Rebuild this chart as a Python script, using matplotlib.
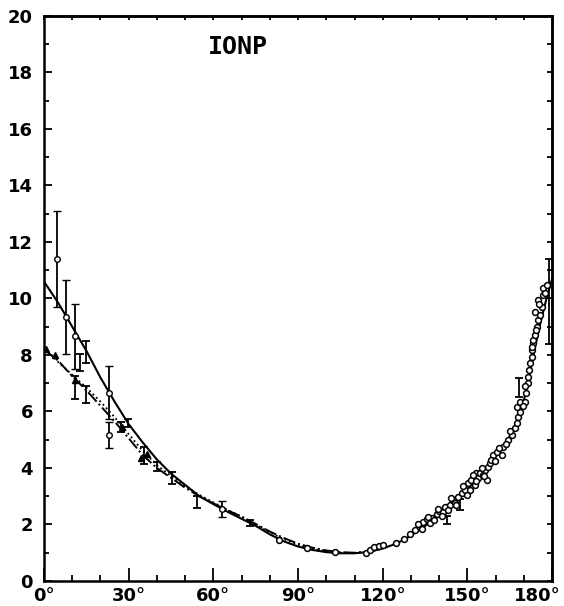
import matplotlib
matplotlib.use("Agg")
import matplotlib.pyplot as plt
import matplotlib.transforms as mtransforms
import numpy as np

plt.rcParams["font.family"] = ["DejaVu Sans"]

# fitted curves (angle in degrees, value)
fit_angle = [0, 5, 10, 15, 20, 25, 30, 35, 40, 45, 50, 55, 60, 65, 70, 75, 80, 85, 90,
             95, 100, 105, 110, 115, 120, 125, 130, 135, 140, 145, 150, 155, 160, 163,
             166, 168, 170, 172, 174, 176, 178, 180]
fit_solid = [10.6, 9.85, 9.0, 8.15, 7.2, 6.35, 5.55, 4.9, 4.3, 3.8, 3.4, 3.0, 2.72, 2.45,
             2.2, 1.95, 1.65, 1.4, 1.22, 1.1, 1.02, 0.98, 0.98, 1.03, 1.15, 1.33, 1.6,
             1.95, 2.35, 2.78, 3.25, 3.78, 4.4, 4.8, 5.3, 5.8, 6.4, 7.3, 8.3, 9.2, 10.0,
             10.7]

alt_angle = [0, 5, 10, 15, 20, 25, 30, 35, 40, 45, 50, 55, 60, 65, 70, 75, 80, 85, 90,
             95, 100, 105, 110, 115, 120]
fit_dashdot = [8.2, 7.8, 7.25, 6.75, 6.2, 5.65, 5.05, 4.45, 4.0, 3.65, 3.3, 3.0, 2.75,
               2.5, 2.28, 2.02, 1.75, 1.52, 1.32, 1.18, 1.08, 1.02, 1.0, 1.04, 1.15]
fit_dotted = [8.25, 7.75, 7.3, 6.85, 6.35, 5.8, 5.2, 4.6, 4.1, 3.72, 3.36, 3.05, 2.78,
              2.52, 2.27, 2.0, 1.72, 1.48, 1.28, 1.14, 1.05, 1.0, 0.99, 1.03, 1.15]

# measured points with error bars, open circle
eb_circ_x = [4.7, 7.8, 11.0, 23.1, 23.1, 63.1]
eb_circ_y = [11.4, 9.35, 8.67, 6.67, 5.17, 2.55]
eb_circ_e = [1.7, 1.3, 1.15, 0.95, 0.45, 0.27]

# measured points with error bars only
eb_x = [12.8, 14.8, 11.0, 14.8, 27.2, 29.9, 35.3, 40.0, 45.3, 54.3, 73.1,
        142.6, 147.3, 168.4, 178.8]
eb_y = [7.75, 8.1, 6.85, 6.6, 5.45, 5.6, 4.45, 4.05, 3.65, 2.8, 2.05,
        2.15, 2.7, 6.85, 9.9]
eb_e = [0.3, 0.38, 0.4, 0.3, 0.18, 0.14, 0.3, 0.15, 0.2, 0.2, 0.12,
        0.15, 0.2, 0.35, 1.5]

# small filled triangles
tri_x = [0.6, 3.9, 11.0, 34.5, 36.5, 27.5]
tri_y = [8.2, 8.0, 7.1, 4.35, 4.5, 5.45]

# open circles without error bars
circ_x = [83.2, 93.3, 103.0, 114.0, 115.5, 117.0, 118.5, 120.0, 124.6, 127.5,
          129.6, 131.4, 133.1, 134.4, 135.5, 136.7, 137.3, 139.1, 140.0, 141.4,
          142.0, 143.8, 145.0, 145.5, 146.7, 147.9, 149.1, 150.2, 150.9, 151.4,
          152.6, 153.2, 153.9, 154.4, 155.6, 156.2, 156.8, 157.4, 157.9, 159.2,
          160.4, 162.1, 162.7, 164.4, 165.6, 166.8, 167.4, 168.0, 168.6, 167.4,
          168.6, 170.3, 170.9, 171.5, 171.5, 171.9, 172.1, 172.7, 172.7, 173.3,
          172.7, 173.3, 173.9, 174.5, 175.1, 173.9, 175.7, 176.3, 175.1, 176.8,
          176.8, 178.0,
          132.5, 134.0, 136.0, 138.0, 139.5, 141.0, 143.0, 144.2, 146.0, 148.5,
          150.0, 151.8, 153.0, 155.0, 156.0, 158.5, 159.8, 161.0, 163.5, 165.0,
          169.5, 170.5, 174.2, 177.3, 175.5]
circ_y = [1.45, 1.18, 1.04, 1.0, 1.1, 1.2, 1.25, 1.28, 1.33, 1.5,
          1.65, 1.81, 1.9, 2.1, 2.18, 2.04, 2.22, 2.37, 2.49, 2.45,
          2.63, 2.69, 2.87, 2.75, 2.98, 3.1, 3.22, 3.46, 3.22, 3.58,
          3.4, 3.81, 3.64, 3.81, 3.75, 3.93, 3.58, 4.05, 4.17, 4.46,
          4.58, 4.46, 4.75, 4.99, 5.17, 5.4, 5.58, 5.82, 5.99, 6.17,
          6.35, 6.35, 6.64, 7.0, 7.23, 7.47, 7.71, 7.94, 8.18, 8.41,
          8.29, 8.53, 8.71, 9.0, 9.24, 9.53, 9.42, 9.71, 9.95, 10.12,
          10.36, 10.48,
          2.0, 1.85, 2.25, 2.15, 2.55, 2.3, 2.5, 2.95, 2.7, 3.35,
          3.05, 3.75, 3.55, 4.0, 3.7, 4.3, 4.25, 4.7, 4.85, 5.3,
          6.2, 6.9, 8.9, 10.2, 9.8]

fig = plt.figure(figsize=(5.64, 6.06), dpi=100)
ax = fig.add_axes([0.078, 0.0413, 0.901, 0.9323])

ax.plot(fit_angle, fit_solid, "-", color="black", linewidth=1.5)
ax.plot(alt_angle, fit_dashdot, "-.", color="black", linewidth=1.4)
ax.plot(alt_angle, fit_dotted, ":", color="black", linewidth=1.3)

ax.errorbar(eb_circ_x, eb_circ_y, yerr=eb_circ_e, fmt="o", color="black",
            mfc="white", mec="black", ms=4, mew=1.0, elinewidth=1.3, capsize=3,
            capthick=1.3)
ax.errorbar(eb_x, eb_y, yerr=eb_e, fmt="none", ecolor="black",
            elinewidth=1.3, capsize=3, capthick=1.3)
ax.plot(tri_x, tri_y, "^", color="black", ms=4)
ax.plot(circ_x, circ_y, "o", color="black", mfc="white", mec="black", ms=4.2, mew=1.1)

ax.text(68.7, 18.9, "IONP", fontsize=18, fontweight="bold", family="DejaVu Sans Mono",
        ha="center", va="center")

ax.set_xlim(0, 180)
ax.set_ylim(0, 20)
ax.set_xticks(np.arange(0, 181, 30))
ax.set_xticklabels([f"{a}°" for a in range(0, 181, 30)])
ax.set_xticks(np.arange(0, 181, 10), minor=True)
ax.set_yticks(np.arange(0, 21, 2))
ax.set_yticks(np.arange(0, 21, 1), minor=True)

ax.tick_params(which="both", direction="in", width=1.3, labelsize=13)
ax.tick_params(axis="x", which="major", length=9.4, pad=4)
ax.tick_params(axis="x", which="minor", length=4.3)
ax.tick_params(axis="y", which="major", length=5.8, pad=8)
ax.tick_params(axis="y", which="minor", length=3.6)
for lab in ax.get_xticklabels() + ax.get_yticklabels():
    lab.set_fontweight("bold")

# keep the last angle label inside the figure
last = ax.get_xticklabels()[-1]
last.set_horizontalalignment("right")
last.set_transform(last.get_transform() +
                   mtransforms.ScaledTranslation(6 / 72, 0, fig.dpi_scale_trans))

top = ax.secondary_xaxis("top")
top.set_xticks(np.arange(0, 181, 10))
top.tick_params(direction="in", length=2.9, width=1.3, labeltop=False)
right = ax.secondary_yaxis("right")
right.set_yticks(np.arange(0, 21, 1))
right.tick_params(direction="in", length=3.6, width=1.3, labelright=False)

for sp in list(ax.spines.values()) + [top.spines["top"], right.spines["right"]]:
    sp.set_linewidth(1.8)

fig.savefig("out.png", dpi=100)
